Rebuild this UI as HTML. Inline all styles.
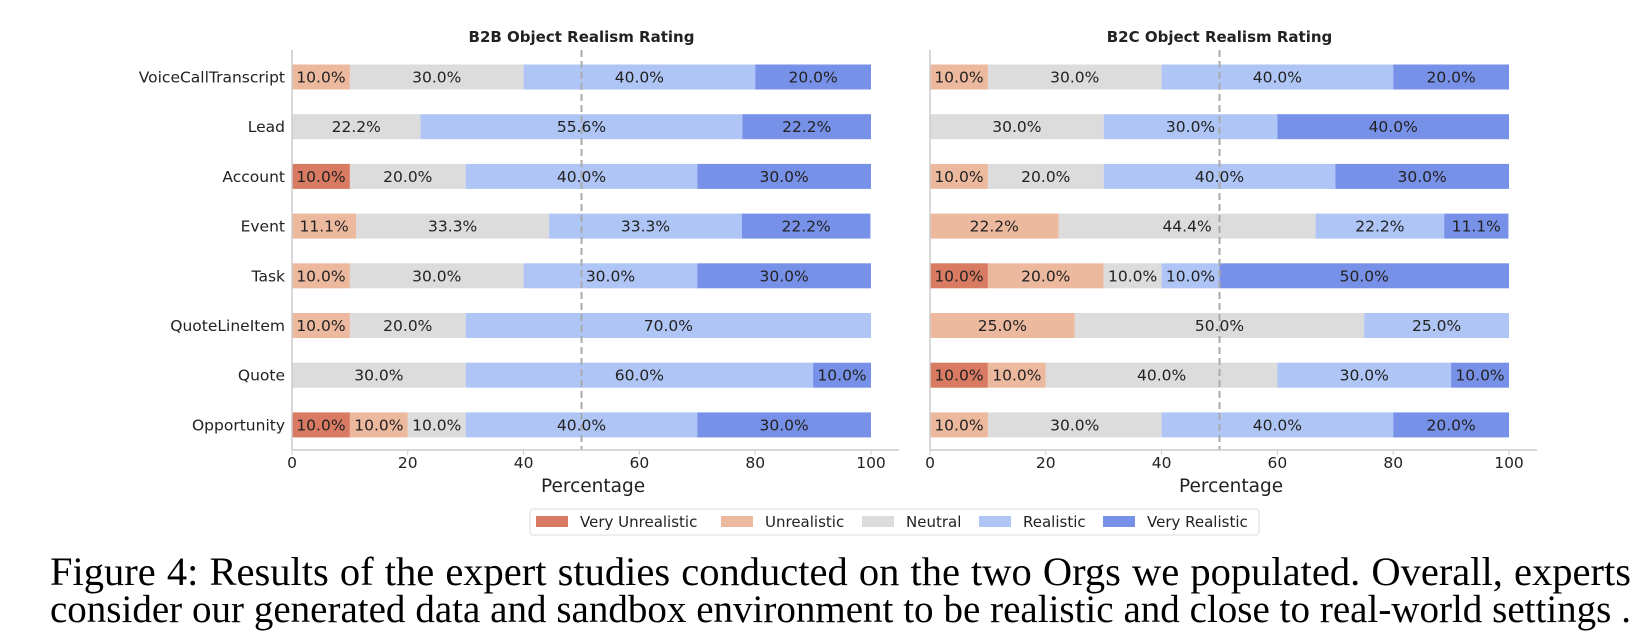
<!DOCTYPE html>
<html><head><meta charset="utf-8"><style>
body{margin:0;background:#fff;width:1652px;height:640px;overflow:hidden;font-family:"DejaVu Sans","Liberation Sans",sans-serif}
.cap{position:absolute;left:50px;width:1581px;font-family:"Liberation Serif",serif;font-size:40.5px;line-height:39px;color:#000;white-space:nowrap;text-align:justify;text-align-last:justify}
</style></head><body>
<svg id="chart" width="1652" height="545" style="position:absolute;left:0;top:0"></svg>
<div class="cap" style="top:552px">Figure 4: Results of the expert studies conducted on the two Orgs we populated. Overall, experts</div>
<div class="cap" style="top:590px;font-size:39px">consider our generated data and sandbox environment to be realistic and close to real-world settings .</div>
<script>
const categories=["VoiceCallTranscript","Lead","Account","Event","Task","QuoteLineItem","Quote","Opportunity"];
const seriesNames=["Very Unrealistic","Unrealistic","Neutral","Realistic","Very Realistic"];
const colors=["#d97a62","#ecb99f","#dcdcdc","#aec5f5","#7891e8"];
const b2b=[[0,10,30,40,20],[0,0,22.2,55.6,22.2],[10,0,20,40,30],[0,11.1,33.3,33.3,22.2],[0,10,30,30,30],[0,10,20,70,0],[0,0,30,60,10],[10,10,10,40,30]];
const b2c=[[0,10,30,40,20],[0,0,30,30,40],[0,10,20,40,30],[0,22.2,44.4,22.2,11.1],[10,20,10,10,50],[0,25,50,25,0],[10,10,40,30,10],[0,10,30,40,20]];
const ticks=[0,20,40,60,80,100];
const svg=document.getElementById('chart');
const NS='http://www.w3.org/2000/svg';
function mk(t,a){const e=document.createElementNS(NS,t);for(const k in a)e.setAttribute(k,a[k]);svg.appendChild(e);return e;}
function panel(x0,title,data,showLabels,pname){
  const w=579;const X=v=>x0+v*w/100;const Y=i=>77+i*49.7;const bh=25;
  const t=mk('text',{x:X(50),y:42,'text-anchor':'middle','font-size':15,'font-weight':'bold',fill:'#222'});t.textContent=title;
  
  
  data.forEach((row,i)=>{
    let acc=0;
    row.forEach((v,s)=>{
      if(v>0){
        const r=mk('rect',{x:X(acc),y:Y(i)-bh/2,width:X(acc+v)-X(acc),height:bh,fill:colors[s]});
        
        
        const tx=mk('text',{x:(X(acc)+X(acc+v))/2,y:Y(i)+5.5,'text-anchor':'middle','font-size':15.5,fill:'#222'});
        tx.textContent=v.toFixed(1)+'%';
        
        
      }
      acc+=v;
    });
    if(showLabels){
      const l=mk('text',{x:x0-7,y:Y(i)+5.5,'text-anchor':'end','font-size':15.5,fill:'#222'});l.textContent=categories[i];
      
      
    }
  });
  mk('line',{x1:X(50),x2:X(50),y1:50,y2:450,stroke:'#aaa','stroke-width':2,'stroke-dasharray':'7,4'});
  mk('line',{x1:x0,x2:x0,y1:50,y2:450,stroke:'#ccc','stroke-width':1.5});
  mk('line',{x1:x0,x2:x0+607,y1:450,y2:450,stroke:'#ccc','stroke-width':1.5});
  ticks.forEach(v=>{
    mk('line',{x1:X(v),x2:X(v),y1:450,y2:455,stroke:'#ccc'});
    const tl=mk('text',{x:X(v),y:468,'text-anchor':'middle','font-size':15.5,fill:'#222'});tl.textContent=v;
    
    
  });
  const xt=mk('text',{x:X(52),y:492,'text-anchor':'middle','font-size':18.5,fill:'#222'});xt.textContent='Percentage';
  
  
}
panel(292,'B2B Object Realism Rating',b2b,true,'b2b');
panel(930,'B2C Object Realism Rating',b2c,false,'b2c');
const lg=mk('rect',{x:530,y:509,width:729,height:26,fill:'#fff',stroke:'#ddd',rx:3});


const lx=[536,721,862,979,1103];
seriesNames.forEach((n,s)=>{
  const r=mk('rect',{x:lx[s],y:516,width:32,height:11,fill:colors[s]});
  
  
  const t=mk('text',{x:lx[s]+44,y:527,'font-size':15,fill:'#222'});t.textContent=n;
  
  
});
</script>
</body></html>
